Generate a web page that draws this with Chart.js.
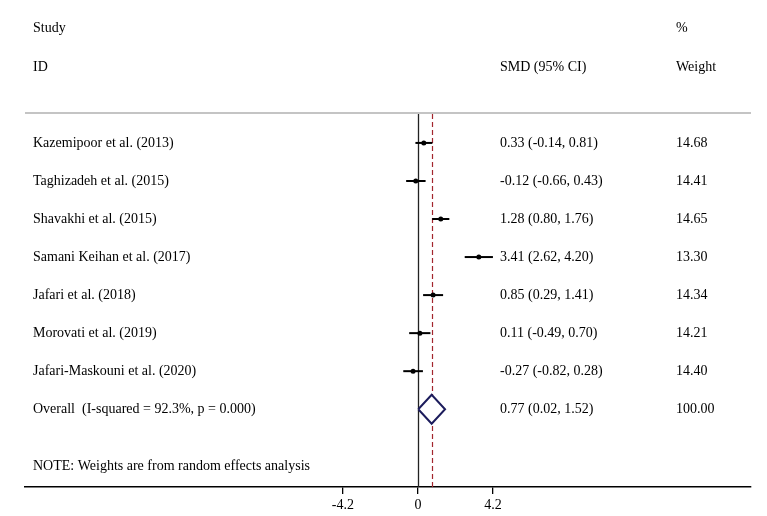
<!DOCTYPE html>
<html>
<head>
<meta charset="utf-8">
<script src="https://cdn.jsdelivr.net/npm/chart.js@4/dist/chart.umd.min.js"></script>
<style>
  html, body { margin: 0; padding: 0; background: #fff; }
  #wrap { width: 767px; height: 516px; position: relative; }
</style>
</head>
<body>
<div id="wrap"><canvas id="forest"></canvas></div>
<script>
// datos del forest plot
const studies = [
    'Kazemipoor et al. (2013)',
    'Taghizadeh et al. (2015)',
    'Shavakhi et al. (2015)',
    'Samani Keihan et al. (2017)',
    'Jafari et al. (2018)',
    'Morovati et al. (2019)',
    'Jafari-Maskouni et al. (2020)'
];
const smd = [0.33, -0.12, 1.28, 3.41, 0.85, 0.11, -0.27];
const ciLow = [-0.14, -0.66, 0.80, 2.62, 0.29, -0.49, -0.82];
const ciHigh = [0.81, 0.43, 1.76, 4.20, 1.41, 0.70, 0.28];
const weights = [14.68, 14.41, 14.65, 13.30, 14.34, 14.21, 14.40];

const overallLabel = 'Overall  (I-squared = 92.3%, p = 0.000)';
const overallSmd = 0.77;
const overallLow = 0.02;
const overallHigh = 1.52;
const overallWeight = 100.00;

const xTicks = [-4.2, 0, 4.2];
const noteText = 'NOTE: Weights are from random effects analysis';

const FONT = '"Liberation Serif", "Times New Roman", serif';
const overallRow = studies.length;

// líneas de IC, una por estudio
const ciDatasets = studies.map((s, i) => ({
    type: 'line',
    data: [{ x: ciLow[i], y: i }, { x: ciHigh[i], y: i }],
    borderColor: '#000',
    borderWidth: 2,
    pointRadius: 0,
    fill: false
}));

// rombo del efecto global
const diamondH = 0.38;
const diamond = {
    type: 'line',
    data: [
        { x: overallLow, y: overallRow },
        { x: overallSmd, y: overallRow - diamondH },
        { x: overallHigh, y: overallRow },
        { x: overallSmd, y: overallRow + diamondH },
        { x: overallLow, y: overallRow }
    ],
    borderColor: '#1c1c5c',
    borderWidth: 2,
    backgroundColor: '#fff',
    fill: 'shape',
    pointRadius: 0,
    tension: 0
};

const points = {
    type: 'scatter',
    data: smd.map((v, i) => ({ x: v, y: i })),
    pointRadius: 2.5,
    pointStyle: 'circle',
    backgroundColor: '#000',
    borderColor: '#000',
    borderWidth: 0
};

// plugin para líneas de referencia y textos
const forestPlugin = {
    id: 'forestPlugin',
    beforeDatasetsDraw(chart) {
        const { ctx, chartArea, scales } = chart;
        const x = scales.x;
        ctx.save();
        // línea gris superior
        ctx.strokeStyle = '#c4c4c4';
        ctx.lineWidth = 2;
        ctx.beginPath();
        ctx.moveTo(chartArea.left, chartArea.top);
        ctx.lineTo(chartArea.right, chartArea.top);
        ctx.stroke();
        // línea de no efecto
        const x0 = Math.round(x.getPixelForValue(0)) + 0.5;
        ctx.strokeStyle = '#222';
        ctx.lineWidth = 1.3;
        ctx.beginPath();
        ctx.moveTo(x0, chartArea.top + 1);
        ctx.lineTo(x0, chartArea.bottom);
        ctx.stroke();
        // línea punteada del efecto global
        const xo = Math.round(x.getPixelForValue(overallSmd)) + 0.5;
        ctx.strokeStyle = '#a3262e';
        ctx.lineWidth = 1.2;
        ctx.setLineDash([5, 3]);
        ctx.beginPath();
        ctx.moveTo(xo, chartArea.top + 1);
        ctx.lineTo(xo, chartArea.bottom);
        ctx.stroke();
        ctx.restore();
    },
    afterDraw(chart) {
        const { ctx, scales } = chart;
        const y = scales.y;
        const colLabel = 33, colEst = 500, colW = 676;
        ctx.save();
        ctx.font = '14px ' + FONT;
        ctx.fillStyle = '#000';
        ctx.textBaseline = 'middle';
        ctx.textAlign = 'left';

        const yStudy = y.getPixelForValue(-3);
        const yId = y.getPixelForValue(-2);
        ctx.fillText('Study', colLabel, yStudy);
        ctx.fillText('%', colW, yStudy);
        ctx.fillText('ID', colLabel, yId);
        ctx.fillText('SMD (95% CI)', colEst, yId);
        ctx.fillText('Weight', colW, yId);

        studies.forEach((s, i) => {
            const py = y.getPixelForValue(i);
            ctx.fillText(s, colLabel, py);
            ctx.fillText(smd[i].toFixed(2) + ' (' + ciLow[i].toFixed(2) + ', ' + ciHigh[i].toFixed(2) + ')', colEst, py);
            ctx.fillText(weights[i].toFixed(2), colW, py);
        });

        const po = y.getPixelForValue(overallRow);
        ctx.fillText(overallLabel, colLabel, po);
        ctx.fillText(overallSmd.toFixed(2) + ' (' + overallLow.toFixed(2) + ', ' + overallHigh.toFixed(2) + ')', colEst, po);
        ctx.fillText(overallWeight.toFixed(2), colW, po);

        ctx.fillText(noteText, colLabel, y.getPixelForValue(8.5));
        ctx.restore();
    }
};

new Chart(document.getElementById('forest').getContext('2d'), {
    type: 'scatter',
    data: {
        datasets: [points, diamond, ...ciDatasets]
    },
    options: {
        responsive: true,
        maintainAspectRatio: false,
        animation: false,
        layout: {
            padding: { top: 113, left: 25, right: 16, bottom: 0 }
        },
        plugins: {
            legend: { display: false },
            tooltip: { enabled: false }
        },
        scales: {
            x: {
                type: 'linear',
                min: -22.0,
                max: 18.65,
                afterBuildTicks: (axis) => {
                    axis.ticks = xTicks.map(v => ({ value: v }));
                },
                ticks: {
                    autoSkip: false,
                    maxRotation: 0,
                    padding: 4,
                    color: '#000',
                    font: { family: FONT, size: 14, lineHeight: 1.0 },
                    callback: (v) => v === 0 ? '0' : String(v)
                },
                grid: {
                    drawOnChartArea: false,
                    drawTicks: true,
                    tickLength: 7,
                    color: '#000',
                    lineWidth: 1.3
                },
                border: { display: true, color: '#000', width: 1.5 }
            },
            y: {
                type: 'linear',
                display: false,
                reverse: true,
                min: -0.787,
                max: 9.045
            }
        }
    },
    plugins: [forestPlugin]
});
</script>
</body>
</html>
